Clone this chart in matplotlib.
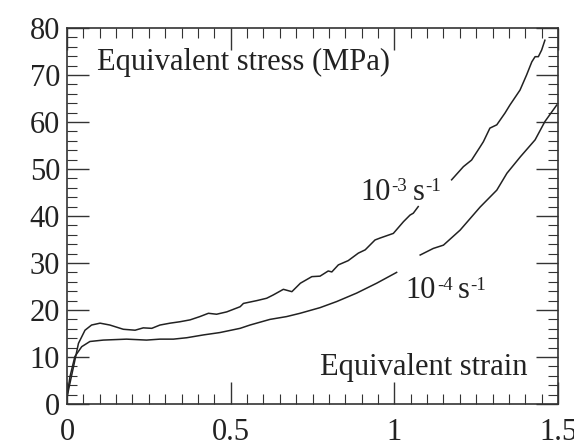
import numpy as np
import matplotlib
matplotlib.use("Agg")
import matplotlib.pyplot as plt
from matplotlib.ticker import MultipleLocator

nan = np.nan
# 10^-3 s^-1 curve (gap where the label covers it)
strain_fast = [0.0, 0.0198, 0.035, 0.055, 0.075, 0.101, 0.131, 0.172, 0.208, 0.233, 0.259,
               0.284, 0.315, 0.345, 0.376, 0.406, 0.432, 0.457, 0.488, 0.529, 0.539, 0.58,
               0.61, 0.63, 0.661, 0.687, 0.713, 0.748, 0.773, 0.798, 0.809, 0.829, 0.859,
               0.89, 0.911, 0.941, 0.956, 0.997, 1.028, 1.048, 1.058, 1.073, nan,
               1.175, 1.211, 1.236, 1.262, 1.272, 1.292, 1.313, 1.338, 1.353, 1.384,
               1.404, 1.42, 1.43, 1.44, 1.45, 1.46]
stress_fast = [1.5, 7.9, 12.9, 15.7, 16.8, 17.2, 16.8, 15.9, 15.7, 16.2, 16.1,
               16.8, 17.2, 17.5, 17.9, 18.6, 19.3, 19.1, 19.6, 20.7, 21.4, 22.0,
               22.5, 23.2, 24.4, 23.9, 25.7, 27.1, 27.2, 28.3, 28.1, 29.6, 30.5,
               32.1, 32.8, 34.9, 35.3, 36.3, 38.8, 40.2, 40.6, 42.0, nan,
               47.7, 50.5, 51.9, 54.7, 55.8, 58.7, 59.4, 61.9, 63.6, 66.8,
               70.0, 72.8, 73.9, 73.9, 75.3, 77.4]

# 10^-4 s^-1 curve
strain_slow = [0.0, 0.009, 0.024, 0.045, 0.07, 0.111, 0.182, 0.243, 0.284, 0.325, 0.366,
               0.417, 0.467, 0.529, 0.559, 0.62, 0.671, 0.712, 0.773, 0.824, 0.885,
               0.946, 1.007, nan,
               1.079, 1.119, 1.15, 1.201, 1.262, 1.313, 1.344, 1.385, 1.43, 1.46, 1.496]
stress_slow = [1.5, 5.8, 10.1, 12.2, 13.3, 13.6, 13.8, 13.6, 13.8, 13.8, 14.1,
               14.7, 15.2, 16.1, 16.8, 18.0, 18.6, 19.3, 20.5, 21.8, 23.6,
               25.7, 28.0, nan,
               31.7, 33.1, 33.8, 37.0, 41.9, 45.5, 49.1, 52.6, 56.2, 60.1, 63.6]

x_ticks = [0, 0.5, 1, 1.5]
x_ticklabels = ["0", "0.5", "1", "1.5"]
y_ticks = [0, 10, 20, 30, 40, 50, 60, 70, 80]

plt.rcParams['font.family'] = ['Liberation Serif', 'DejaVu Serif']

FS = 22
INK = '#222222'

fig = plt.figure(figsize=(5.74, 4.44), dpi=100)
ax = fig.add_axes([67/574, 40/444, 491/574, 376/444])

ax.plot(strain_fast, stress_fast, color=INK, lw=1.1)
ax.plot(strain_slow, stress_slow, color=INK, lw=1.1)

ax.set_xlim(0, 1.5)
ax.set_ylim(0, 80)
ax.set_xticks(x_ticks)
ax.set_xticklabels(x_ticklabels)
ax.set_yticks(y_ticks)
ax.xaxis.set_minor_locator(MultipleLocator(0.05))
ax.yaxis.set_minor_locator(MultipleLocator(2))
ax.tick_params(which='both', direction='in', top=True, right=True, color='#333333')
ax.tick_params(which='major', length=16, width=1.0, labelsize=FS, pad=5, labelcolor=INK)
ax.tick_params(which='minor', length=7, width=0.8)
ax.tick_params(axis='x', which='major', pad=10)
for s in ax.spines.values():
    s.set_linewidth(1.2)
    s.set_color('#333333')

ax.text(0.0916, 71.0, "Equivalent stress (MPa)", fontsize=FS, color=INK)
ax.text(0.773, 6.2, "Equivalent strain", fontsize=FS, color=INK)


def rate_label(x, y, exp):
    t1 = ax.text(x, y, "10", fontsize=FS, color=INK, va='bottom')
    t2 = ax.annotate(exp, xy=(1, 0), xycoords=t1, xytext=(0.5, 8), textcoords='offset points',
                     fontsize=FS * 0.62, color=INK, va='bottom')
    t3 = ax.annotate("s", xy=(1, 0), xycoords=(t2, t1), xytext=(4, 0), textcoords='offset points',
                     fontsize=FS, color=INK, va='bottom')
    ax.annotate("-1", xy=(1, 0), xycoords=t3, xytext=(0.5, 8), textcoords='offset points',
                fontsize=FS * 0.62, color=INK, va='bottom')


rate_label(0.895, 42.0, "-3")
rate_label(1.035, 21.0, "-4")

fig.savefig("out.png", dpi=100, facecolor='white')
